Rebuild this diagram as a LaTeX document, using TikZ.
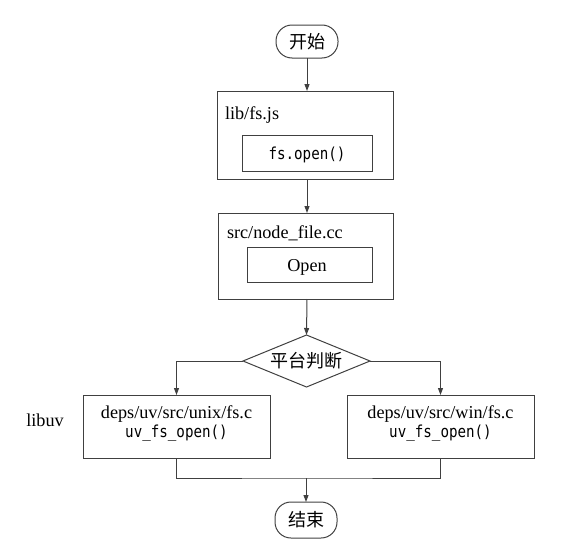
\documentclass[tikz,border=0pt]{standalone}
\usepackage{fontspec}
\setmainfont{Liberation Serif}
\newfontfamily\cjk{Noto Sans CJK SC}
\newfontfamily\monof[FakeStretch=0.86]{DejaVu Sans Mono}
\usetikzlibrary{arrows.meta,shapes.geometric,calc}
\begin{document}
\begin{tikzpicture}[x=1pt,y=-1pt,
  line width=1pt, draw=black!75,
  every node/.style={inner sep=0pt, outer sep=0pt},
  serif/.style={font=\fontsize{18.2}{20}\selectfont},
  cjkt/.style={font=\fontsize{18}{20}\selectfont\cjk},
  monot/.style={font=\fontsize{16.5}{19}\selectfont\monof},
  term/.style={draw=black!75, rounded corners=16pt, cjkt},
  box/.style={draw=black!75, rectangle},
  arr/.style={draw=black!75, -{Triangle[length=7pt,width=5pt]}},
  ln/.style={draw=black!75}]
\useasboundingbox (0,0) rectangle (570,546);
% start
\node[term, minimum width=62pt, minimum height=33pt] (start) at (307,41.5) {开始};
% box1
\node[box, minimum width=176pt, minimum height=88pt] (b1) at (305,135) {};
\node[serif, anchor=base west] (b1l) at (225,119) {lib/fs.js};
\node[box, minimum width=130pt, minimum height=36pt] (b1i) at (307,153) {};
\node[monot, anchor=base] (b1it) at (307,159) {fs.open()};
% box2
\node[box, minimum width=175pt, minimum height=86pt] (b2) at (305.5,256) {};
\node[serif, anchor=base west] (b2l) at (227,238) {src/node\_file.cc};
\node[box, minimum width=125pt, minimum height=35pt] (b2i) at (309.5,264.5) {};
\node[serif, anchor=base] (b2it) at (307,271) {Open};
% decision
\node[draw=black!75, shape=diamond, aspect=2.44, minimum width=127pt, minimum height=52pt, cjkt] (dec) at (306.5,361) {平台判断};
% platform boxes
\node[box, minimum width=187pt, minimum height=63pt] (lb) at (176.5,426.5) {};
\node[serif, anchor=base] (lb1) at (176.5,418) {deps/uv/src/unix/fs.c};
\node[monot, anchor=base] (lb2) at (176.5,437) {uv\_fs\_open()};
\node[box, minimum width=187pt, minimum height=63pt] (rb) at (440.5,426.5) {};
\node[serif, anchor=base] (rb1) at (440.5,418) {deps/uv/src/win/fs.c};
\node[monot, anchor=base] (rb2) at (440.5,437) {uv\_fs\_open()};
\node[serif, anchor=base] (libuv) at (45,426) {libuv};
% end
\node[term, minimum width=62pt, minimum height=36pt] (end) at (306,520) {结束};
\coordinate (j) at (306,478);
% connectors
\draw[arr] (start.south) -- (start.south |- b1.north);
\draw[arr] (b1.south -| start.south) -- (start.south |- b2.north);
\draw[arr] (b2.south -| start.south) -- (dec.north);
\draw[arr] (dec.west) -| (lb.north);
\draw[arr] (dec.east) -| (rb.north);
\draw[ln] (lb.south) |- (j) -| (rb.south);
\draw[arr] (j) -- (end.north);
\end{tikzpicture}
\end{document}
